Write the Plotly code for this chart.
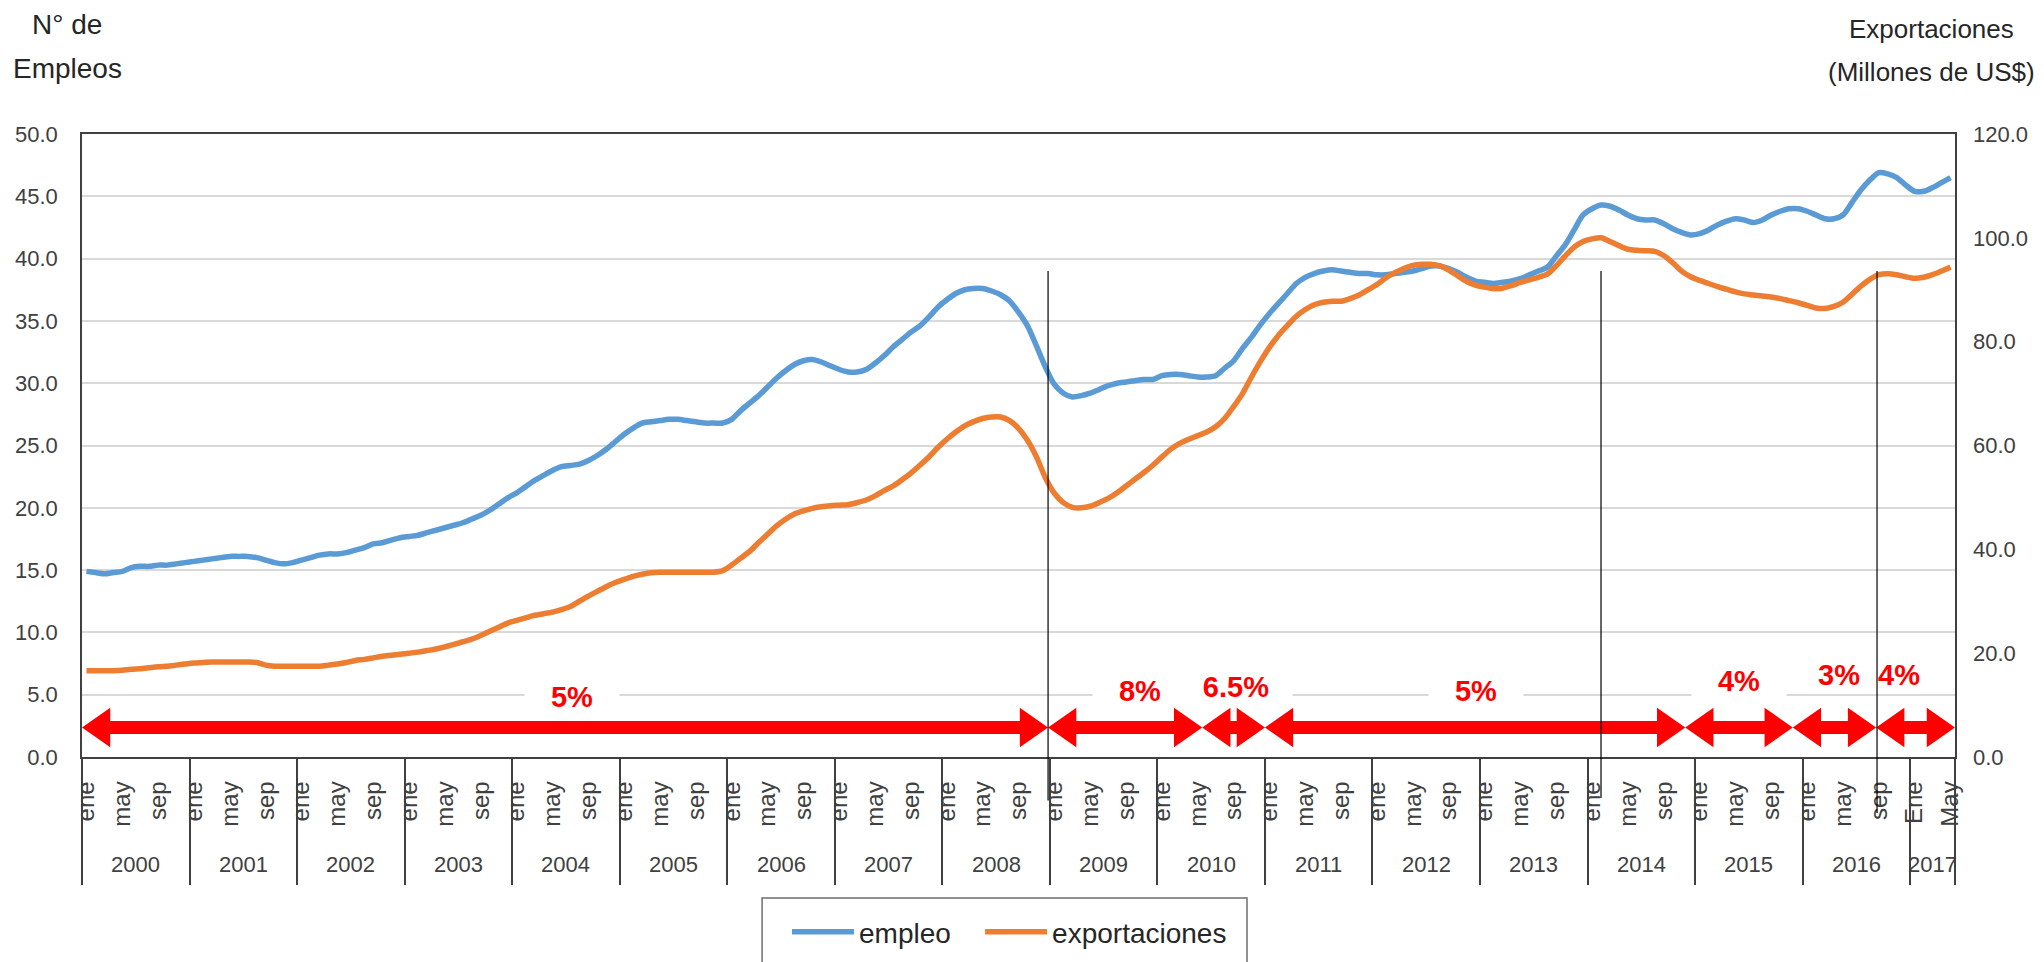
import plotly.graph_objects as go

# ---------------- data ----------------
YEARS = list(range(2000, 2018))
N_MONTHS = 209  # ene 2000 .. may 2017

EMPLEO = [
    14.9, 14.8, 14.7, 14.8, 14.9, 15.2, 15.3, 15.3, 15.4, 15.4, 15.5, 15.6,  # 2000
    15.7, 15.8, 15.9, 16.0, 16.1, 16.1, 16.1, 16.0, 15.8, 15.6, 15.5, 15.6,  # 2001
    15.8, 16.0, 16.2, 16.3, 16.3, 16.4, 16.6, 16.8, 17.1, 17.2, 17.4, 17.6,  # 2002
    17.7, 17.8, 18.0, 18.2, 18.4, 18.6, 18.8, 19.1, 19.4, 19.8, 20.3, 20.8,  # 2003
    21.2, 21.7, 22.2, 22.6, 23.0, 23.3, 23.4, 23.5, 23.8, 24.2, 24.7, 25.3,  # 2004
    25.9, 26.4, 26.8, 26.9, 27.0, 27.1, 27.1, 27.0, 26.9, 26.8, 26.8, 26.8,  # 2005
    27.1, 27.8, 28.4, 29.0, 29.7, 30.4, 31.0, 31.5, 31.8, 31.9, 31.7, 31.4,  # 2006
    31.1, 30.9, 30.9, 31.1, 31.6, 32.2, 32.9, 33.5, 34.1, 34.6, 35.3, 36.1,  # 2007
    36.7, 37.2, 37.5, 37.6, 37.6, 37.4, 37.1, 36.6, 35.7, 34.6, 33.0, 31.3,  # 2008
    29.9, 29.2, 28.9, 29.0, 29.2, 29.5, 29.8, 30.0, 30.1, 30.2, 30.3, 30.3,  # 2009
    30.6, 30.7, 30.7, 30.6, 30.5, 30.5, 30.6, 31.2, 31.8, 32.8, 33.7, 34.7,  # 2010
    35.6, 36.4, 37.2, 38.0, 38.5, 38.8, 39.0, 39.1, 39.0, 38.9, 38.8, 38.8,  # 2011
    38.7, 38.7, 38.8, 38.9, 39.0, 39.2, 39.4, 39.4, 39.2, 38.9, 38.5, 38.2,  # 2012
    38.1, 38.0, 38.1, 38.2, 38.4, 38.7, 39.0, 39.3, 40.2, 41.1, 42.3, 43.5,  # 2013
    44.0, 44.3, 44.2, 43.9, 43.5, 43.2, 43.1, 43.1, 42.8, 42.4, 42.1, 41.9,  # 2014
    42.0, 42.3, 42.7, 43.0, 43.2, 43.1, 42.9, 43.1, 43.5, 43.8, 44.0, 44.0,  # 2015
    43.8, 43.5, 43.2, 43.2, 43.5, 44.5, 45.5, 46.3, 46.9, 46.8, 46.5, 45.9,  # 2016
    45.4, 45.4, 45.7, 46.1, 46.5,                                              # 2017
]

EXPORTACIONES = [
    16.6, 16.6, 16.6, 16.6, 16.7, 16.9, 17.0, 17.2, 17.4, 17.5, 17.7, 17.9,  # 2000
    18.1, 18.2, 18.3, 18.3, 18.3, 18.3, 18.3, 18.2, 17.7, 17.5, 17.5, 17.5,  # 2001
    17.5, 17.5, 17.5, 17.7, 17.9, 18.2, 18.6, 18.8, 19.1, 19.4, 19.6, 19.8,  # 2002
    20.0, 20.2, 20.5, 20.8, 21.2, 21.7, 22.2, 22.7, 23.4, 24.2, 25.0, 25.8,  # 2003
    26.3, 26.8, 27.3, 27.6, 27.9, 28.4, 29.0, 30.0, 31.0, 31.9, 32.8, 33.6,  # 2004
    34.2, 34.8, 35.2, 35.5, 35.6, 35.6, 35.6, 35.6, 35.6, 35.6, 35.6, 35.9,  # 2005
    37.0, 38.3, 39.6, 41.3, 42.9, 44.5, 45.8, 46.8, 47.4, 47.9, 48.2, 48.4,  # 2006
    48.5, 48.6, 49.0, 49.5, 50.3, 51.3, 52.2, 53.4, 54.7, 56.2, 57.8, 59.6,  # 2007
    61.2, 62.6, 63.8, 64.6, 65.2, 65.5, 65.5, 64.8, 63.3, 61.0, 57.8, 53.8,  # 2008
    50.8, 49.0, 48.1, 48.0, 48.3, 49.0, 49.8, 50.9, 52.2, 53.5, 54.8, 56.2,  # 2009
    57.8, 59.3, 60.4, 61.2, 61.9, 62.6, 63.6, 65.2, 67.5, 70.0, 73.2, 76.2,  # 2010
    78.9, 81.2, 83.1, 84.9, 86.2, 87.1, 87.6, 87.8, 87.8, 88.3, 89.0, 90.0,  # 2011
    91.0, 92.3, 93.3, 94.1, 94.7, 94.9, 94.9, 94.6, 93.8, 92.7, 91.6, 90.9,  # 2012
    90.5, 90.2, 90.3, 90.8, 91.4, 91.9, 92.4, 93.0, 94.6, 96.5, 98.2, 99.3,  # 2013
    99.8, 100.0, 99.3, 98.5, 97.8, 97.6, 97.5, 97.4, 96.6, 95.2, 93.6, 92.5, # 2014
    91.8, 91.2, 90.6, 90.1, 89.6, 89.2, 89.0, 88.8, 88.6, 88.3, 87.9, 87.5,  # 2015
    87.0, 86.5, 86.4, 86.8, 87.6, 89.1, 90.7, 92.0, 92.9, 93.1, 92.9, 92.5,  # 2016
    92.2, 92.4, 92.9, 93.6, 94.4,                                              # 2017
]

MONTH_LABELS = ["ene", "may", "sep"]
MONTH_LABELS_2017 = ["Ene", "May"]

# growth periods: (start index, end index, label, label x index, label y)
PERIODOS = [
    (-0.5, 107.3, "5%", 54.2, 4.85),
    (107.3, 124.5, "8%", 117.6, 5.3),
    (124.5, 131.5, "6.5%", 128.3, 5.65),
    (131.5, 178.4, "5%", 155.0, 5.3),
    (178.4, 190.4, "4%", 184.4, 6.1),
    (190.4, 199.7, "3%", 195.5, 6.55),
    (199.7, 208.5, "4%", 202.3, 6.55),
]
# thin vertical marker lines (month index, bottom in paper units)
MARCAS = [(107.3, -0.07), (169.0, -0.066), (199.8, -0.09)]
MARCA_TOP = 39.0  # in left-axis units

# ---------------- styling ----------------
FONT = "Liberation Sans, Arial, sans-serif"
BLUE = "#5B9BD5"
ORANGE = "#ED7D31"
AXIS = "#404040"
TXT = "#404040"

x = list(range(N_MONTHS))

fig = go.Figure()
fig.add_trace(go.Scatter(x=x, y=EMPLEO, name="empleo", mode="lines", legend="legend",
                         line=dict(color=BLUE, width=5.5, shape="spline", smoothing=0.8)))
fig.add_trace(go.Scatter(x=x, y=EXPORTACIONES, name="exportaciones", mode="lines",
                         yaxis="y2", legend="legend2",
                         line=dict(color=ORANGE, width=5.5, shape="spline", smoothing=0.8)))

# month tick labels
tickvals, ticktext = [], []
for k, yr in enumerate(YEARS):
    labels = MONTH_LABELS_2017 if yr == 2017 else MONTH_LABELS
    for j, lab in enumerate(labels):
        tickvals.append(12 * k + 4 * j)
        ticktext.append(lab)

separators = [12 * k - 0.5 for k in range(len(YEARS))] + [N_MONTHS - 0.5]

annotations = []
# year labels
for k, yr in enumerate(YEARS):
    start = 12 * k
    end = min(12 * k + 11, N_MONTHS - 1)
    annotations.append(dict(x=(start + end) / 2, y=-0.1733, xref="x", yref="paper",
                            text=str(yr), showarrow=False,
                            font=dict(family=FONT, size=22, color=TXT),
                            xanchor="center", yanchor="middle"))

# axis titles
LEFT_TITLE = dict(family=FONT, size=28, color="#262626")
RIGHT_TITLE = dict(family=FONT, size=26, color="#262626")
annotations += [
    dict(x=-0.008, y=1.175, xref="paper", yref="paper", text="N° de", showarrow=False,
         font=LEFT_TITLE, xanchor="center", yanchor="middle"),
    dict(x=-0.008, y=1.105, xref="paper", yref="paper", text="Empleos", showarrow=False,
         font=LEFT_TITLE, xanchor="center", yanchor="middle"),
    dict(x=0.9877, y=1.1685, xref="paper", yref="paper", text="Exportaciones", showarrow=False,
         font=RIGHT_TITLE, xanchor="center", yanchor="middle"),
    dict(x=0.9877, y=1.0995, xref="paper", yref="paper", text="(Millones de US$)", showarrow=False,
         font=RIGHT_TITLE, xanchor="center", yanchor="middle"),
]

shapes = []
# red double-headed arrows
C, S, H, L = 2.37, 0.52, 1.58, 3.15
for a, b, lab, lx, ly in PERIODOS:
    pts = [(a, C), (a + L, C + H), (a + L, C + S), (b - L, C + S), (b - L, C + H), (b, C),
           (b - L, C - H), (b - L, C - S), (a + L, C - S), (a + L, C - H)]
    path = "M " + " L ".join(f"{px},{py}" for px, py in pts) + " Z"
    shapes.append(dict(type="path", path=path, xref="x", yref="y",
                       fillcolor="#FF0000", line=dict(width=0), layer="above"))
    boxed = lab in ("5%", "8%", "6.5%") or (lab == "4%" and lx < 190)
    w = 110 if lab == "6.5%" else 92
    annotations.append(dict(x=lx, y=ly, xref="x", yref="y", text=f"<b>{lab}</b>",
                            showarrow=False,
                            font=dict(family=FONT, size=29, color="#FF0000"),
                            bgcolor="white" if boxed else "rgba(0,0,0,0)",
                            width=w if boxed else None, height=28 if boxed else None,
                            xanchor="center", yanchor="middle"))

# thin vertical marker lines
for mx, bottom in MARCAS:
    shapes.append(dict(type="line", xref="x", yref="paper", x0=mx, x1=mx,
                       y0=bottom, y1=MARCA_TOP / 50.0,
                       line=dict(color="black", width=1.2), layer="above"))

# legend frame
shapes.append(dict(type="rect", xref="paper", yref="paper", x0=0.3631, x1=0.622,
                   y0=-0.34, y1=-0.2263, line=dict(color="#6E6E6E", width=1.5),
                   fillcolor="rgba(0,0,0,0)", layer="above"))

LEGEND_COMMON = dict(orientation="h", xanchor="left", y=-0.2809, yanchor="middle",
                     borderwidth=0, bgcolor="rgba(0,0,0,0)",
                     font=dict(family=FONT, size=28, color="#262626"), itemwidth=62)

fig.update_layout(
    width=2044, height=962,
    margin=dict(l=82, r=89, t=134, b=205, autoexpand=False),
    paper_bgcolor="white", plot_bgcolor="white",
    showlegend=True,
    legend=dict(x=0.3764, **LEGEND_COMMON),
    legend2=dict(x=0.4795, **LEGEND_COMMON),
    xaxis=dict(range=[-0.5, N_MONTHS - 0.5], tickmode="array", tickvals=tickvals,
               ticktext=ticktext, tickangle=-90, ticks="", showgrid=False,
               showline=True, linecolor=AXIS, linewidth=1.5, mirror=True,
               tickfont=dict(family=FONT, size=24, color=TXT),
               ticklabelstandoff=13, zeroline=False,
               minor=dict(tickmode="array", tickvals=separators, ticks="outside",
                          ticklen=126, tickwidth=1.6, tickcolor=AXIS, showgrid=False)),
    yaxis=dict(range=[0, 50], dtick=5, tick0=0, tickformat=".1f", showgrid=True,
               gridcolor="#D9D9D9", gridwidth=1.5, showline=True, linecolor=AXIS,
               linewidth=1.5, mirror=True, ticks="", zeroline=False,
               tickfont=dict(family=FONT, size=22, color=TXT), ticklabelstandoff=18),
    yaxis2=dict(range=[0, 120], dtick=20, tick0=0, tickformat=".1f", overlaying="y",
                side="right", showgrid=False, showline=False, ticks="", zeroline=False,
                tickfont=dict(family=FONT, size=22, color=TXT), ticklabelstandoff=17),
    annotations=annotations,
    shapes=shapes,
)

fig.write_html("out.html", config={"displayModeBar": False},
               post_script="document.body.style.margin='0';document.body.style.overflow='hidden';")
